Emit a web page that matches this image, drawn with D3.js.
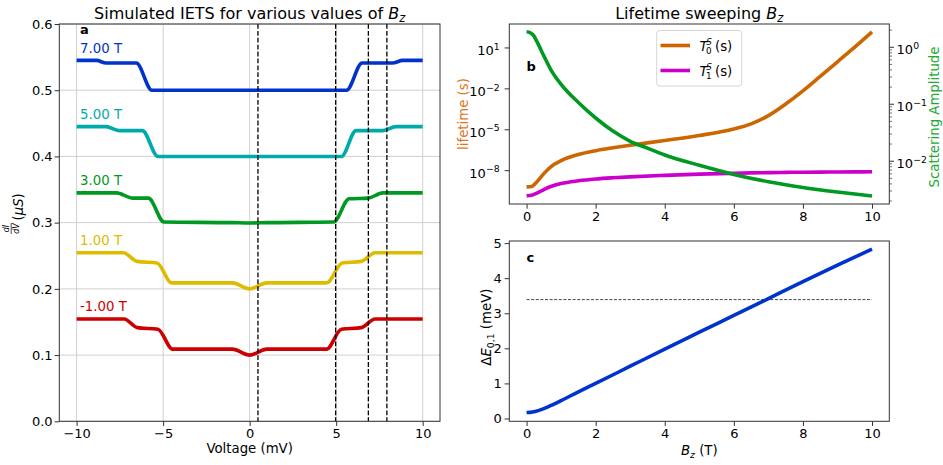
<!DOCTYPE html>
<html><head><meta charset="utf-8">
<script src="https://cdn.jsdelivr.net/npm/d3@7/dist/d3.min.js"></script>
<style>
body{margin:0;background:#fff;}
svg text{font-family:"DejaVu Sans",sans-serif;fill:#000;}
</style></head>
<body>
<svg id="chart" width="943" height="465"></svg>
<script>
// ---------------- Data ----------------
const fieldLabels = ["7.00 T", "5.00 T", "3.00 T", "1.00 T", "-1.00 T"];
const fieldColors = ["#0033cc", "#00aaaa", "#009922", "#ddbb00", "#cc0000"];
// [voltage (mV), dI/dV (uS)]
const iets_7T = [[-10,0.545],[-8.85,0.545],[-8.3,0.541],[-6.55,0.541],[-5.65,0.500],[5.6,0.500],[6.5,0.541],[8.25,0.541],[8.85,0.545],[10,0.545]];
const iets_5T = [[-10,0.445],[-8.3,0.445],[-7.55,0.439],[-6.2,0.439],[-5.3,0.400],[5.3,0.400],[6.15,0.439],[7.7,0.439],[8.45,0.445],[10,0.445]];
const iets_3T = [[-10,0.345],[-7.7,0.345],[-6.75,0.337],[-5.85,0.337],[-4.95,0.301],[-1,0.300],[0,0.2995],[1,0.300],[4.85,0.301],[5.75,0.336],[6.85,0.337],[7.7,0.345],[10,0.345]];
const iets_1T = [[-10,0.2545],[-7.3,0.2545],[-6.5,0.2415],[-5.35,0.239],[-4.5,0.209],[-1.0,0.209],[0,0.200],[1.0,0.209],[4.45,0.209],[5.35,0.239],[6.45,0.2415],[7.25,0.2545],[10,0.2545]];
const iets_m1T = [[-10,0.1545],[-7.25,0.1545],[-6.5,0.1415],[-5.3,0.139],[-4.45,0.109],[-1.0,0.109],[0,0.100],[1.0,0.109],[4.45,0.109],[5.3,0.139],[6.45,0.1415],[7.25,0.1545],[10,0.1545]];
const ietsSeries = [iets_7T, iets_5T, iets_3T, iets_1T, iets_m1T];
const levelVoltages = [0.48, 4.97, 6.86, 7.93];
const voltageTicks = [-10, -5, 0, 5, 10];
const conductanceTicks = [0, 0.1, 0.2, 0.3, 0.4, 0.5, 0.6];

// Panel b
const bGrid = [0,0.15,0.3,0.5,0.7,1,1.5,2,2.5,3,4,5,6,6.5,7,7.5,8,8.5,9,9.5,10];
const lifetimeT0 = [6.0e-10,6.46e-10,1.41e-9,5.62e-9,1.78e-8,5.01e-8,1.41e-7,2.69e-7,4.37e-7,6.76e-7,1.5e-6,3.5e-6,1.05e-5,2.5e-5,1.0e-4,7.1e-4,6.6e-3,7.6e-2,0.89,10.7,138];
const lifetimeT1 = [1.32e-10,1.45e-10,2.09e-10,3.8e-10,6.31e-10,1.05e-9,1.66e-9,2.24e-9,2.75e-9,3.24e-9,4.17e-9,5.1e-9,5.9e-9,6.3e-9,6.6e-9,6.9e-9,7.1e-9,7.2e-9,7.4e-9,7.5e-9,7.6e-9];
const bGridScatter = [0,0.1,0.2,0.3,0.5,0.7,1,1.5,2,2.5,3,3.5,4,5,6,7,8,9,10];
const scatterAmp = [1.837,1.778,1.585,1.23,0.692,0.398,0.219,0.105,0.0562,0.0331,0.0219,0.0166,0.0126,0.00832,0.00575,0.00427,0.00339,0.00282,0.0024];
const lifetimeTicks = [1e1, 1e-2, 1e-5, 1e-8];
const lifetimeExps = ["1", "\u22122", "\u22125", "\u22128"];
const ampTicks = [1, 0.1, 0.01];
const ampExps = ["0", "\u22121", "\u22122"];
const fieldTicks = [0, 2, 4, 6, 8, 10];

// Panel c
const bGridC = [0,0.1,0.25,0.5,0.75,1,1.5,2,3,4,5,6,7,8,9,10];
const deltaE = [0.17,0.175,0.2,0.28,0.39,0.51,0.76,1.0,1.49,1.98,2.46,2.94,3.42,3.9,4.37,4.83];
const thresholdE = 3.39;
const energyTicks = [0, 1, 2, 3, 4, 5];

// ---------------- Drawing ----------------
const svg = d3.select("#chart");
const FS = 13.3, TFS = 13;
const spineColor = "#333";

function styleAxis(g) {
  g.select(".domain").remove();
  g.selectAll(".tick line").attr("stroke", spineColor).attr("stroke-width", 1);
  g.selectAll(".tick text").attr("font-size", TFS).attr("font-family", "DejaVu Sans").attr("fill", "#000");
}
function frame(x0, y0, x1, y1) {
  svg.append("rect").attr("x", x0).attr("y", y0).attr("width", x1 - x0).attr("height", y1 - y0)
    .attr("fill", "none").attr("stroke", spineColor).attr("stroke-width", 1);
}
function minusFmt(d, f) { return f(d).replace("-", "\u2212"); }

// ===== Panel a =====
const A = {x0: 59.3, x1: 440, y0: 24, y1: 421.3};
const xa = d3.scaleLinear().domain([-11, 11]).range([A.x0, A.x1]);
const ya = d3.scaleLinear().domain([0, 0.6]).range([A.y1, A.y0]);
const ga = svg.append("g");
ga.selectAll(".vg").data(voltageTicks).join("line")
  .attr("x1", d => xa(d)).attr("x2", d => xa(d)).attr("y1", A.y0).attr("y2", A.y1)
  .attr("stroke", "#d0d0d0").attr("stroke-width", 1);
ga.selectAll(".hg").data(conductanceTicks).join("line")
  .attr("x1", A.x0).attr("x2", A.x1).attr("y1", d => ya(d)).attr("y2", d => ya(d))
  .attr("stroke", "#d0d0d0").attr("stroke-width", 1);
const lineA = d3.line().x(d => xa(d[0])).y(d => ya(d[1])).curve(d3.curveMonotoneX);
ietsSeries.forEach((s, i) => {
  ga.append("path").attr("d", lineA(s)).attr("fill", "none").attr("stroke", fieldColors[i])
    .attr("stroke-width", 3.6).attr("stroke-linejoin", "round").attr("stroke-linecap", "butt");
  ga.append("text").attr("x", xa(-9.8)).attr("y", ya(s[0][1] + 0.0115))
    .attr("font-size", FS).style("fill", fieldColors[i]).text(fieldLabels[i]);
});
ga.selectAll(".lv").data(levelVoltages).join("line")
  .attr("x1", d => xa(d)).attr("x2", d => xa(d)).attr("y1", A.y0).attr("y2", A.y1)
  .attr("stroke", "#000").attr("stroke-width", 1.3).attr("stroke-dasharray", "4.8,2.1");
frame(A.x0, A.y0, A.x1, A.y1);
svg.append("g").attr("transform", `translate(0,${A.y1})`)
  .call(d3.axisBottom(xa).tickValues(voltageTicks).tickSize(4.7).tickPadding(2.6).tickFormat(d => minusFmt(d, d3.format("d"))))
  .call(styleAxis);
svg.append("g").attr("transform", `translate(${A.x0},0)`)
  .call(d3.axisLeft(ya).tickValues(conductanceTicks).tickSize(4.7).tickPadding(2).tickFormat(d3.format(".1f")))
  .call(styleAxis);
svg.append("text").attr("x", xa(-10) + 3.5).attr("y", 33.5).attr("font-size", 13).attr("font-weight", "bold").text("a");
const ta = svg.append("text").attr("x", (A.x0 + A.x1) / 2).attr("y", 18.5).attr("text-anchor", "middle").attr("font-size", 16);
ta.append("tspan").text("Simulated IETS for various values of ");
ta.append("tspan").attr("font-style", "italic").text("B");
ta.append("tspan").attr("font-style", "italic").attr("font-size", 11.5).attr("dy", 3).text("z");
svg.append("text").attr("x", (A.x0 + A.x1) / 2).attr("y", 452.8).attr("text-anchor", "middle").attr("font-size", FS).text("Voltage (mV)");
const yl = svg.append("g").attr("transform", "translate(0,222) rotate(-90)");
yl.append("text").attr("x", -6.5).attr("y", 9.3).attr("text-anchor", "middle").attr("font-size", 8).attr("font-style", "italic").text("dI");
yl.append("line").attr("x1", -12).attr("x2", -1).attr("y1", 11.2).attr("y2", 11.2).attr("stroke", "#000").attr("stroke-width", 0.7);
yl.append("text").attr("x", -6.5).attr("y", 18.5).attr("text-anchor", "middle").attr("font-size", 8).attr("font-style", "italic").text("dV");
const ylt = yl.append("text").attr("x", 1.5).attr("y", 22.8).attr("font-size", FS);
ylt.append("tspan").text("(");
ylt.append("tspan").attr("font-style", "italic").text("\u03bcS");
ylt.append("tspan").text(")");

// ===== Panel b =====
const B = {x0: 509.3, x1: 889.3, y0: 24, y1: 204};
const xb = d3.scaleLinear().domain([-0.5, 10.5]).range([B.x0, B.x1]);
const ybL = d3.scaleLog().domain([Math.pow(10, -10.48), Math.pow(10, 2.72)]).range([B.y1, B.y0]);
const ybR = d3.scaleLog().domain([Math.pow(10, -2.76), Math.pow(10, 0.40)]).range([B.y1, B.y0]);
const gb = svg.append("g");
const lineT0 = d3.line().x((d, i) => xb(bGrid[i])).y(d => ybL(d)).curve(d3.curveMonotoneX);
const lineS = d3.line().x((d, i) => xb(bGridScatter[i])).y(d => ybR(d)).curve(d3.curveMonotoneX);
gb.append("path").attr("d", lineT0(lifetimeT0)).attr("fill", "none").attr("stroke", "#cc6600").attr("stroke-width", 3.6);
gb.append("path").attr("d", lineT0(lifetimeT1)).attr("fill", "none").attr("stroke", "#cc00cc").attr("stroke-width", 3.6);
gb.append("path").attr("d", lineS(scatterAmp)).attr("fill", "none").attr("stroke", "#009922").attr("stroke-width", 3.6);
frame(B.x0, B.y0, B.x1, B.y1);
svg.append("g").attr("transform", `translate(0,${B.y1})`)
  .call(d3.axisBottom(xb).tickValues(fieldTicks).tickSize(4.7).tickPadding(2.6).tickFormat(d3.format("d")))
  .call(styleAxis);
function supLabels(g, exps) {
  g.selectAll(".tick text").each(function(d, i) {
    const t = d3.select(this); t.text("");
    t.append("tspan").text("10");
    t.append("tspan").attr("font-size", 9.3).attr("dy", -5.5).text(exps[i]);
  });
}
svg.append("g").attr("transform", `translate(${B.x0},0)`)
  .call(d3.axisLeft(ybL).tickValues(lifetimeTicks).tickSize(4.7).tickPadding(5))
  .call(styleAxis).call(g => supLabels(g, lifetimeExps))
  .selectAll(".tick text").attr("dy", "0.55em");
const minorVals = [];
for (let k = -3; k <= 0; k++) for (let m = 2; m <= 9; m++) {
  const v = m * Math.pow(10, k);
  if (v >= ybR.domain()[0] && v <= ybR.domain()[1]) minorVals.push(v);
}
svg.append("g").attr("transform", `translate(${B.x1},0)`)
  .call(d3.axisRight(ybR).tickValues(minorVals).tickSize(2.7).tickFormat(""))
  .call(styleAxis).selectAll(".tick line").attr("stroke-width", 0.7);
svg.append("g").attr("transform", `translate(${B.x1},0)`)
  .call(d3.axisRight(ybR).tickValues(ampTicks).tickSize(4.7).tickPadding(2.6))
  .call(styleAxis).call(g => supLabels(g, ampExps))
  .selectAll(".tick text").attr("dy", "0.55em");
svg.append("text").attr("x", xb(0)).attr("y", 70.5).attr("font-size", 13).attr("font-weight", "bold").text("b");
const tb = svg.append("text").attr("x", (B.x0 + B.x1) / 2).attr("y", 18.5).attr("text-anchor", "middle").attr("font-size", 16);
tb.append("tspan").text("Lifetime sweeping ");
tb.append("tspan").attr("font-style", "italic").text("B");
tb.append("tspan").attr("font-style", "italic").attr("font-size", 11.5).attr("dy", 3).text("z");
svg.append("text").attr("transform", `translate(468,${(B.y0 + B.y1) / 2}) rotate(-90)`).attr("text-anchor", "middle")
  .attr("font-size", FS).style("fill", "#dd7722").text("lifetime (s)");
svg.append("text").attr("transform", `translate(938.5,${(B.y0 + B.y1) / 2 + 3}) rotate(-90)`).attr("text-anchor", "middle")
  .attr("font-size", FS).style("fill", "#22aa33").text("Scattering Amplitude");
// legend
const lg = svg.append("g");
lg.append("rect").attr("x", 656.7).attr("y", 30.5).attr("width", 85).attr("height", 55.5).attr("rx", 3)
  .attr("fill", "#fff").attr("fill-opacity", 0.8).attr("stroke", "#d5d5d5").attr("stroke-width", 1);
[["#cc6600", "0", 45.5], ["#cc00cc", "1", 70.5]].forEach(([c, sub, y]) => {
  lg.append("line").attr("x1", 660.5).attr("x2", 690).attr("y1", y).attr("y2", y).attr("stroke", c).attr("stroke-width", 3.6);
  lg.append("text").attr("x", 699.5).attr("y", y + 5).attr("font-size", FS).attr("font-style", "italic").text("T");
  lg.append("text").attr("x", 706.3).attr("y", y - 0.8).attr("font-size", 8.8).attr("font-style", "italic").text("S");
  lg.append("text").attr("x", 706.0).attr("y", y + 8).attr("font-size", 8.8).text(sub);
  lg.append("text").attr("x", 715).attr("y", y + 5).attr("font-size", FS).text("(s)");
});

// ===== Panel c =====
const C = {x0: 509.3, x1: 889.3, y0: 241, y1: 421.3};
const xc = d3.scaleLinear().domain([-0.5, 10.5]).range([C.x0, C.x1]);
const yc = d3.scaleLinear().domain([-0.08, 5.06]).range([C.y1, C.y0]);
const gc = svg.append("g");
gc.append("line").attr("x1", xc(0)).attr("x2", xc(10)).attr("y1", yc(thresholdE)).attr("y2", yc(thresholdE))
  .attr("stroke", "#333").attr("stroke-width", 0.9).attr("stroke-dasharray", "3,1.6");
const lineC = d3.line().x((d, i) => xc(bGridC[i])).y(d => yc(d)).curve(d3.curveMonotoneX);
gc.append("path").attr("d", lineC(deltaE)).attr("fill", "none").attr("stroke", "#0033cc").attr("stroke-width", 3.6);
frame(C.x0, C.y0, C.x1, C.y1);
svg.append("g").attr("transform", `translate(0,${C.y1})`)
  .call(d3.axisBottom(xc).tickValues(fieldTicks).tickSize(4.7).tickPadding(2.6).tickFormat(d3.format("d")))
  .call(styleAxis);
svg.append("g").attr("transform", `translate(${C.x0},0)`)
  .call(d3.axisLeft(yc).tickValues(energyTicks).tickSize(4.7).tickPadding(2.9).tickFormat(d3.format("d")))
  .call(styleAxis);
svg.append("text").attr("x", xc(0)).attr("y", 261.5).attr("font-size", 13).attr("font-weight", "bold").text("c");
const xlc = svg.append("text").attr("x", (C.x0 + C.x1) / 2).attr("y", 454.5).attr("text-anchor", "middle").attr("font-size", FS);
xlc.append("tspan").attr("font-style", "italic").text("B");
xlc.append("tspan").attr("font-style", "italic").attr("font-size", 9.3).attr("dy", 3).text("z");
xlc.append("tspan").attr("dy", -3).text(" (T)");
const ylc = svg.append("text").attr("transform", `translate(491,${(C.y0 + C.y1) / 2 - 4}) rotate(-90)`).attr("text-anchor", "middle").attr("font-size", FS);
ylc.append("tspan").text("\u0394");
ylc.append("tspan").attr("font-style", "italic").text("E");
ylc.append("tspan").attr("font-size", 9.3).attr("dy", 3).text("0,1");
ylc.append("tspan").attr("dy", -3).text(" (meV)");
</script>
</body></html>
